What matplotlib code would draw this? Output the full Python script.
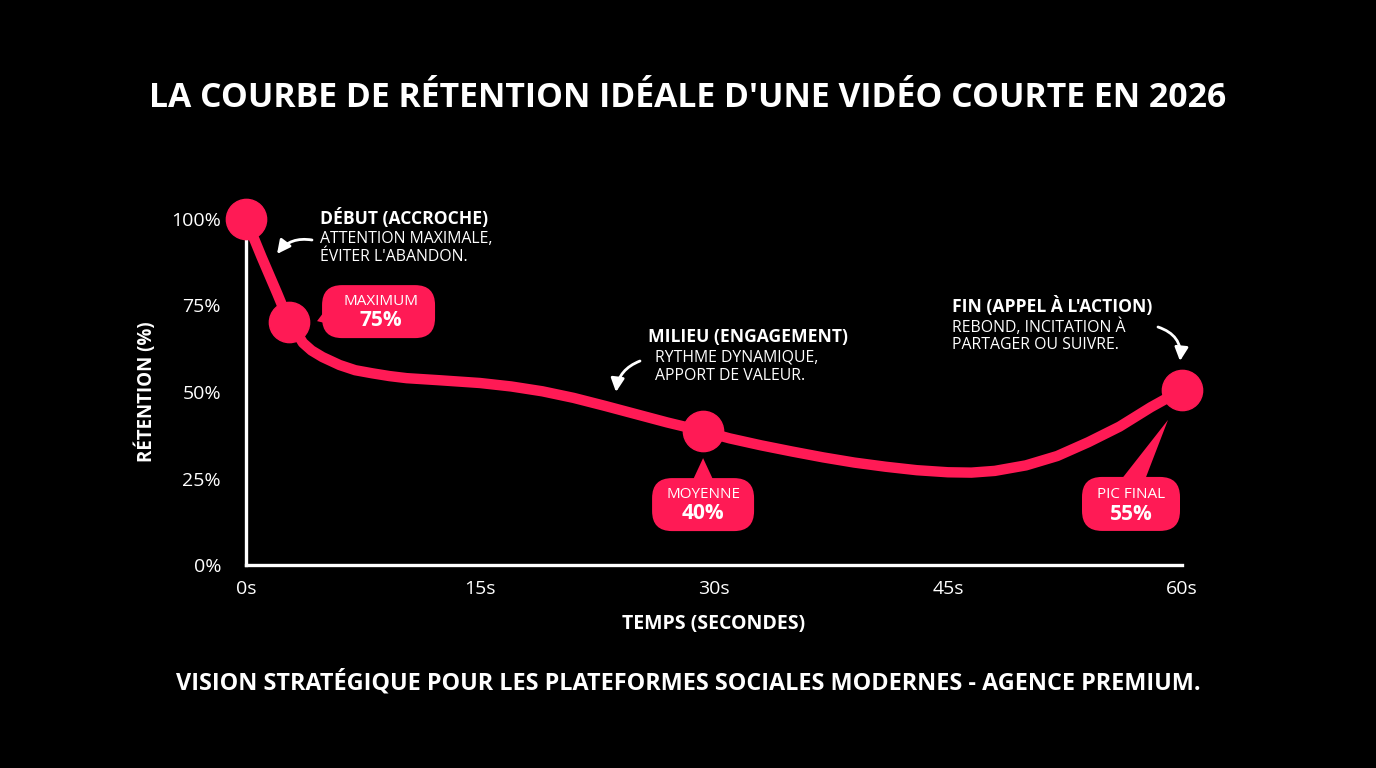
import matplotlib
matplotlib.use("Agg")
import matplotlib.pyplot as plt
import matplotlib.transforms as mtransforms
from matplotlib.patches import FancyBboxPatch, Polygon

# donnees
temps = [0, 1, 2, 2.76, 3.2, 3.65, 4.2, 4.9, 6, 7, 8.1, 9.2, 10.3, 12.4, 15, 17, 19,
         21, 23, 25, 27, 29.3, 31, 33, 35, 37, 39, 41, 43, 45, 46.5, 48, 50, 52, 54,
         56, 58, 60]
retention = [100, 89, 78.5, 70.2, 67.5, 64.2, 62.0, 60.1, 57.8, 56.3, 55.4, 54.6,
             54.0, 53.4, 52.6, 51.6, 50.2, 48.3, 46.0, 43.6, 41.2, 38.7, 36.6, 34.6,
             32.8, 31.1, 29.6, 28.4, 27.4, 26.8, 26.7, 27.2, 28.8, 31.5, 35.5, 40.0,
             45.6, 50.6]
pts_t = [0, 2.76, 29.3, 60]
pts_v = [100, 70.2, 38.7, 50.6]
bulle_titres = ["MAXIMUM", "MOYENNE", "PIC FINAL"]
bulle_valeurs = ["75%", "40%", "55%"]
xticks = [0, 15, 30, 45, 60]
xlabels = ["0s", "15s", "30s", "45s", "60s"]
yticks = [0, 25, 50, 75, 100]
ylabels = ["0%", "25%", "50%", "75%", "100%"]

ROSE = "#FF1A55"
W, H = 1376, 768
plt.rcParams['font.family'] = ['Open Sans', 'DejaVu Sans']

fig = plt.figure(figsize=(W / 100, H / 100), dpi=100, facecolor="black")
ax = fig.add_axes([246 / W, 1 - 565 / H, 936 / W, 346 / H])
ax.set_facecolor("black")

ax.plot(temps, retention, color=ROSE, lw=7.5, solid_capstyle="round",
        solid_joinstyle="round", zorder=3, clip_on=False)
ax.plot(pts_t, pts_v, "o", color=ROSE, ms=29, zorder=4, clip_on=False)

ax.set_xlim(0, 60)
ax.set_ylim(0, 100)
for s in ["top", "right"]:
    ax.spines[s].set_visible(False)
for s in ["left", "bottom"]:
    ax.spines[s].set_color("white")
    ax.spines[s].set_linewidth(2.4)
ax.set_xticks(xticks, xlabels)
ax.set_yticks(yticks, ylabels)
ax.tick_params(axis="both", length=0, colors="white", labelsize=14)
ax.tick_params(axis="y", pad=18)
ax.tick_params(axis="x", pad=11)
ax.set_xlabel("TEMPS (SECONDES)", color="white", fontsize=14, fontweight="bold")
ax.set_ylabel("RÉTENTION (%)", color="white", fontsize=13.5, fontweight="bold")
ax.xaxis.set_label_coords(0.5, -0.142)
ax.yaxis.set_label_coords(-0.095, 0.5)


def ancre(t, v):
    # repere en pouces (1 px = 0.01) centre sur un point de donnees
    return fig.dpi_scale_trans + mtransforms.ScaledTranslation(t, v, ax.transData)


# bulles: (x0, y0, w, h), pointe, base1, base2, centre texte (en pouces)
bulles = [
    ((0.33, -0.16, 1.13, 0.53), (0.28, 0.01), (0.40, 0.17), (0.40, -0.02), 0.92, 0.21),
    ((-0.51, -1.00, 1.02, 0.53), (0.0, -0.27), (-0.13, -0.55), (0.13, -0.55), 0.0, -0.63),
    ((-1.00, -1.41, 0.98, 0.54), (-0.14, -0.30), (-0.65, -0.95), (-0.39, -0.95), -0.51, -1.05),
]
for i, (box, tip, b1, b2, tx, ty) in enumerate(bulles):
    tr = ancre(pts_t[i + 1], pts_v[i + 1])
    x0, y0, w, h = box
    fig.patches.append(FancyBboxPatch((x0 + 0.2, y0 + 0.2), w - 0.4, h - 0.4,
                                      boxstyle="round,pad=0.2", fc=ROSE, ec="none",
                                      transform=tr, zorder=5))
    fig.patches.append(Polygon([tip, b1, b2], closed=True, fc=ROSE, ec="none",
                               transform=tr, zorder=5))
    fig.text(tx, ty, bulle_titres[i], transform=tr, color="white", fontsize=11,
             ha="center", va="center", zorder=6)
    fig.text(tx, ty - 0.195, bulle_valeurs[i], transform=tr, color="white", fontsize=15,
             fontweight="bold", ha="center", va="center", zorder=6)

# textes explicatifs
notes = [
    (320, 218, "DÉBUT (ACCROCHE)", ["ATTENTION MAXIMALE,", "ÉVITER L'ABANDON."], 320),
    (648, 337, "MILIEU (ENGAGEMENT)", ["RYTHME DYNAMIQUE,", "APPORT DE VALEUR."], 655),
    (952, 306, "FIN (APPEL À L'ACTION)", ["REBOND, INCITATION À", "PARTAGER OU SUIVRE."], 952),
]
for x, y, titre, lignes, x2 in notes:
    fig.text(x / W, 1 - y / H, titre, color="white", fontsize=12.6, fontweight="bold",
             va="center", ha="left")
    for k, l in enumerate(lignes):
        fig.text(x2 / W, 1 - (y + 21 + 18 * k) / H, l, color="white", fontsize=11.4,
                 va="center", ha="left")

fleches = [((312, 240), (277, 254), 0.3), ((640, 361), (616, 392), 0.3),
           ((1158, 327), (1180, 361), -0.4)]
for (x1, y1), (x2, y2), rad in fleches:
    ax.annotate("", xy=(x2, H - y2), xytext=(x1, H - y1), xycoords="figure pixels",
                textcoords="figure pixels",
                arrowprops=dict(arrowstyle="-|>", color="white", lw=2, mutation_scale=20,
                                connectionstyle=f"arc3,rad={rad}", shrinkA=0, shrinkB=0))

fig.text(0.5, 1 - 98 / H, "LA COURBE DE RÉTENTION IDÉALE D'UNE VIDÉO COURTE EN 2026",
         color="white", fontsize=24.3, fontweight="bold", ha="center", va="center")
fig.text(0.5, 1 - 683 / H,
         "VISION STRATÉGIQUE POUR LES PLATEFORMES SOCIALES MODERNES - AGENCE PREMIUM.",
         color="white", fontsize=16.8, fontweight="bold", ha="center", va="center")

plt.savefig("out.png", dpi=100, facecolor="black")
